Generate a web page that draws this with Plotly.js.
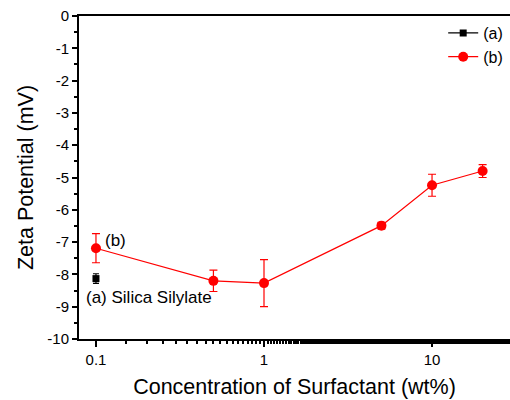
<!DOCTYPE html>
<html><head><meta charset="utf-8">
<script src="https://cdn.plot.ly/plotly-3.0.1.min.js"></script>
<style>body{margin:0;background:#fff}#c{width:510px;height:400px}</style>
</head><body><div id="c"></div>
<script>
var concA = [0.1];
var zetaA = [-8.13];
var errA = [0.15];
var concB = [0.1, 0.5, 1, 5, 10, 20];
var zetaB = [-7.19, -8.20, -8.27, -6.49, -5.24, -4.80];
var errB = [0.45, 0.33, 0.73, 0.10, 0.34, 0.20];
var xTickVals = [0.1, 1, 10];
var xTickText = ['0.1', '1', '10'];
var yTickVals = [0, -1, -2, -3, -4, -5, -6, -7, -8, -9, -10];
var yTickText = ['0', '-1', '-2', '-3', '-4', '-5', '-6', '-7', '-8', '-9', '-10'];

var font = 'Liberation Sans, Arial, sans-serif';
var traces = [
  {x: concA, y: zetaA, name: '(a)', mode: 'lines+markers', type: 'scatter',
   marker: {symbol: 'square', size: 7, color: '#000'}, line: {color: '#000', width: 1.2},
   error_y: {type: 'data', array: errA, visible: true, color: '#000', thickness: 1.2, width: 3}},
  {x: concB, y: zetaB, name: '(b)', mode: 'lines+markers', type: 'scatter',
   marker: {symbol: 'circle', size: 10, color: '#ff0000'}, line: {color: '#ff0000', width: 1.2},
   error_y: {type: 'data', array: errB, visible: true, color: '#ff0000', thickness: 1.2, width: 4}}
];
var layout = {
  width: 510, height: 400,
  margin: {l: 79, r: 0, t: 16, b: 61},
  paper_bgcolor: '#fff', plot_bgcolor: '#fff',
  font: {family: font, color: '#000', size: 15},
  showlegend: true,
  legend: {x: 0.845, y: 1.0, xanchor: 'left', yanchor: 'top', bgcolor: 'rgba(0,0,0,0)',
           font: {size: 16}, tracegroupgap: 0},
  xaxis: {type: 'log', range: [-1.101, 1.464], tickvals: xTickVals, ticktext: xTickText,
          showgrid: false, zeroline: false, showline: true, linecolor: '#000', linewidth: 2,
          mirror: true, ticks: 'outside', ticklen: 6, tickwidth: 2, tickcolor: '#000',
          tickfont: {size: 15},
          minor: {ticks: 'outside', ticklen: 3, tickwidth: 2, tickcolor: '#000', showgrid: false},
          title: {text: 'Concentration of Surfactant (wt%)', font: {size: 21.5}, standoff: 12}},
  yaxis: {range: [-10, 0], tickvals: yTickVals, ticktext: yTickText, showgrid: false, zeroline: false,
          showline: true, linecolor: '#000', linewidth: 2, mirror: true,
          ticks: 'outside', ticklen: 5, tickwidth: 2, tickcolor: '#000', tickfont: {size: 15},
          minor: {dtick: 0.5, ticks: 'outside', ticklen: 3, tickwidth: 2, tickcolor: '#000', showgrid: false},
          title: {text: 'Zeta Potential (mV)', font: {size: 21.5}, standoff: 8}},
  annotations: [
    {x: -1, y: -6.95, xref: 'x', yref: 'y', text: '(b)', showarrow: false, xanchor: 'left', xshift: 7, font: {size: 17}},
    {x: -1, y: -8.73, xref: 'x', yref: 'y', text: '(a) Silica Silylate', showarrow: false, xanchor: 'left', xshift: -12, font: {size: 17}}
  ]
};
Plotly.newPlot('c', traces, layout, {displayModeBar: false, staticPlot: true});
</script></body></html>
